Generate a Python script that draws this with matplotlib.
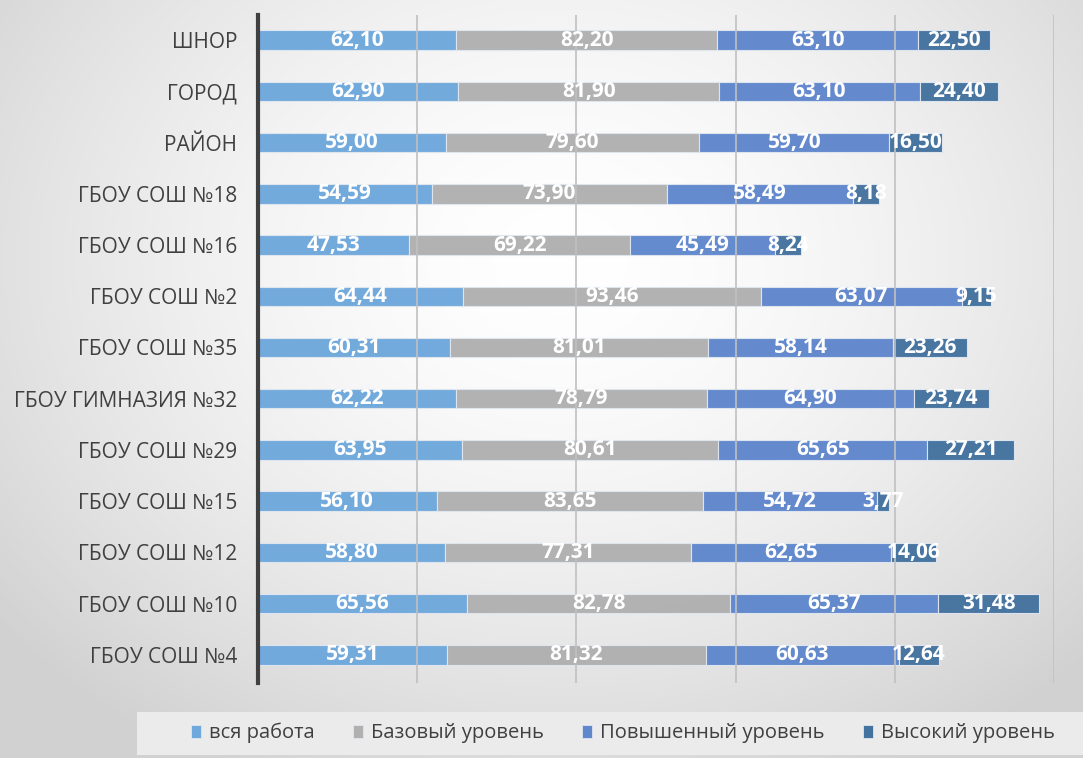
import numpy as np
import matplotlib
matplotlib.use("Agg")
import matplotlib.pyplot as plt
from matplotlib.patches import Rectangle, Patch
from matplotlib import font_manager as fm

plt.rcParams['font.family'] = ['Open Sans', 'DejaVu Sans']

categories = ["ШНОР", "ГОРОД", "РАЙОН", "ГБОУ СОШ №18", "ГБОУ СОШ №16", "ГБОУ СОШ №2",
              "ГБОУ СОШ №35", "ГБОУ ГИМНАЗИЯ №32", "ГБОУ СОШ №29", "ГБОУ СОШ №15",
              "ГБОУ СОШ №12", "ГБОУ СОШ №10", "ГБОУ СОШ №4"]
series_names = ["вся работа", "Базовый уровень", "Повышенный уровень", "Высокий уровень"]
vsya = [62.10, 62.90, 59.00, 54.59, 47.53, 64.44, 60.31, 62.22, 63.95, 56.10, 58.80, 65.56, 59.31]
bazovy = [82.20, 81.90, 79.60, 73.90, 69.22, 93.46, 81.01, 78.79, 80.61, 83.65, 77.31, 82.78, 81.32]
povysh = [63.10, 63.10, 59.70, 58.49, 45.49, 63.07, 58.14, 64.90, 65.65, 54.72, 62.65, 65.37, 60.63]
vysok = [22.50, 24.40, 16.50, 8.18, 8.24, 9.15, 23.26, 23.74, 27.21, 3.77, 14.06, 31.48, 12.64]
colors = ["#6FA8DC", "#B0B0B0", "#5F87CC", "#44729F"]

names = {f.name for f in fm.fontManager.ttflist}
narrow = 'Liberation Sans Narrow' in names

W, H = 1083, 758
fig = plt.figure(figsize=(W / 100, H / 100), dpi=100)

# radial gradient background
bg = fig.add_axes([0, 0, 1, 1], zorder=-10)
yy, xx = np.mgrid[0:H, 0:W]
r = np.sqrt(((xx - 560) / 700.0) ** 2 + ((yy - 260) / 560.0) ** 2)
v = np.clip(1.0 - 0.17 * r ** 1.6, 0.82, 1.0)
img = np.dstack([v, v, v])
bg.imshow(img, aspect='auto', extent=[0, 1, 0, 1], origin='upper')
bg.axis('off')

ax = fig.add_axes([258 / W, 1 - 683 / H, (1054 - 258) / W, (683 - 15) / H])
ax.patch.set_alpha(0)

y = np.arange(len(categories))
data = [vsya, bazovy, povysh, vysok]
left = np.zeros(len(categories))
for vals, col, name in zip(data, colors, series_names):
    vals = np.array(vals)
    ax.barh(y, vals, left=left, height=0.38, color=col, edgecolor="#dfe6f0",
            linewidth=0.8, alpha=0.97, label=name, zorder=2)
    for yi, l, vv in zip(y, left, vals):
        ax.text(l + vv / 2, yi, f"{vv:.2f}".replace(".", ","), ha='center', va='center',
                color='white', fontsize=15, fontweight='bold', zorder=4)
    left = left + vals

ax.set_xlim(0, 250)
ax.set_ylim(12.55, -0.49)
ax.set_xticks([50, 100, 150, 200, 250])
ax.xaxis.grid(True, color="#c0c0c0", linewidth=1.2, zorder=3)
ax.set_axisbelow(False)
ax.tick_params(axis='x', length=0, labelbottom=False)
ax.set_yticks(y)
ax.set_yticklabels(categories, fontsize=15, color="#404040")
ax.tick_params(axis='y', length=0, pad=15)
for s in ['top', 'right', 'bottom']:
    ax.spines[s].set_visible(False)
ax.spines['left'].set_color("#404040")
ax.spines['left'].set_linewidth(3)

# legend band
fig.patches.append(Rectangle((137 / W, 1 - 755 / H), (W - 137) / W, 43 / H,
                             transform=fig.transFigure, facecolor="#ebebeb",
                             edgecolor='none', zorder=0))
handles = [Patch(facecolor=c, edgecolor='#dfe6f0', linewidth=0.6) for c in colors]
if narrow:
    lprop = {'family': ['Liberation Sans Narrow', 'DejaVu Sans'], 'size': 17}
    cs = 2.4
else:
    lprop = {'family': ['Open Sans', 'DejaVu Sans'], 'size': 14.5}
    cs = 1.9
fig.legend(handles, series_names, loc='center', bbox_to_anchor=(623 / W, 1 - 733 / H),
           ncol=4, frameon=False, prop=lprop, labelcolor="#404040",
           handlelength=0.5, handleheight=0.6, handletextpad=0.4, columnspacing=cs)

fig.savefig("out.png", dpi=100)
